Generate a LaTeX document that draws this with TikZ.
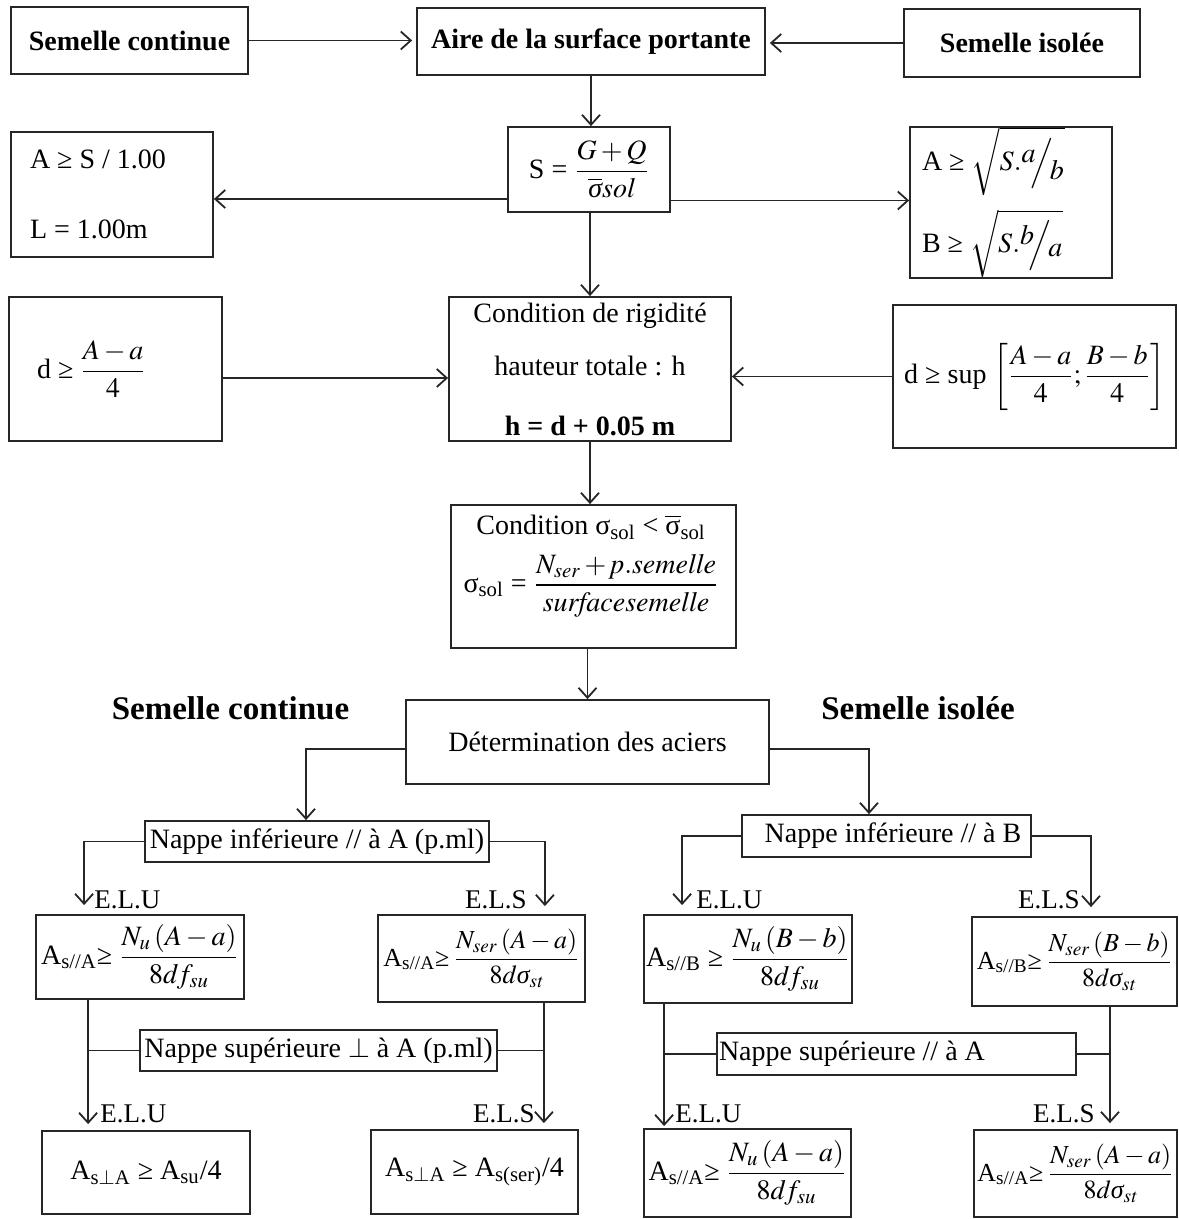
\documentclass[tikz,border=0pt]{standalone}
\usepackage{amsmath}
\usepackage{mathptmx}
\usepackage{fontspec}
\setmainfont{Liberation Serif}
\usetikzlibrary{arrows.meta}
\newcommand{\sigi}{\mbox{\itshape σ}}

\tikzset{
  cadre/.style={draw=black!85, line width=0.9pt, inner sep=0pt},
  fleche/.style={draw=black!85, line width=0.9pt, -{Straight Barb[length=5pt,width=9pt]}},
  trait/.style={draw=black!85, line width=0.9pt},
  gras/.style={font=\fontsize{14}{16}\selectfont\bfseries},
  formule/.style={font=\fontsize{13}{15}\selectfont},
  etat/.style={font=\fontsize{13.5}{15}\selectfont, inner sep=0pt},
  titre/.style={font=\fontsize{16.5}{19}\selectfont\bfseries, inner sep=0pt}
}

\begin{document}
\begin{tikzpicture}[x=0.5pt, y=-0.5pt, font=\fontsize{14}{16}\selectfont]
  \useasboundingbox (0,0) rectangle (1178,1219);
  \node[cadre, gras, minimum width=118.5pt, minimum height=33.5pt] (scont) at (129.5,40.5) {Semelle continue};
  \node[cadre, gras, minimum width=174pt, minimum height=33.5pt] (aire) at (591,41.5) {Aire de la surface portante};
  \node[cadre, gras, minimum width=118pt, minimum height=34pt] (siso) at (1022,43) {Semelle isolée};

  \node[cadre, minimum width=81pt, minimum height=42.5pt] (surface) at (589,169.5) {S = $\dfrac{G+Q}{\overline{\sigi}\mathit{sol}}$};
  \node[cadre, minimum width=101pt, minimum height=62.5pt, text width=82pt, inner xsep=9.5pt, align=flush left] (contA) at (112,194.5) {A ≥ S / 1.00\\[19pt] L = 1.00m};
  \node[cadre, minimum width=101pt, minimum height=74.5pt, text width=89pt, inner xsep=6pt, align=flush left] (isoAB) at (1011,202.5) {A ≥ $\sqrt{S.{}^{\textstyle a}\!\!\Big/\!_{\textstyle b}}$\\[6pt] B ≥ $\sqrt{S.{}^{\textstyle b}\!\!\Big/\!_{\textstyle a}}$};

  \node[cadre, minimum width=106.5pt, minimum height=72pt, text width=78.5pt, inner xsep=14pt, align=flush left] (dcont) at (115.5,369) {d ≥ $\dfrac{A-a}{4}$};
  \node[cadre, minimum width=141pt, minimum height=72pt, align=center] (rigid) at (590,369) {Condition de rigidité\\[10.5pt] hauteur totale : h\\[14pt] \textbf{h = d + 0.05 m}};
  \node[cadre, minimum width=141.5pt, minimum height=71.5pt] (diso) at (1034.5,376.5) {d ≥ sup $\left[\dfrac{A-a}{4};\dfrac{B-b}{4}\right]$};

  \node[cadre, minimum width=142.5pt, minimum height=71.5pt] (sigma) at (593.5,576.5) {};
  \node[align=center] (sigtxt) at (591,566) {Condition σ\textsubscript{sol} < $\overline{\mbox{σ}}$\textsubscript{sol}\\[6pt] σ\textsubscript{sol} = $\dfrac{N_{\mathit{ser}}+\mathit{p.semelle}}{\mathit{surfacesemelle}}$};

  \node[cadre, minimum width=181.5pt, minimum height=42pt] (acier) at (587.5,742) {Détermination des aciers};
  \node[titre] (tcont) at (230.5,708) {Semelle continue};
  \node[titre] (tiso) at (918,708) {Semelle isolée};

  \node[cadre, minimum width=172pt, minimum height=20.5pt] (infA) at (317,841.5) {Nappe inférieure // à A (p.ml)};
  \node[cadre, minimum width=144.5pt, minimum height=21pt] (infB) at (886.5,836) {\hspace*{6.5pt}Nappe inférieure // à B};

  \node[cadre, minimum width=104pt, minimum height=42pt] (eluA) at (140,957) {A\textsubscript{s//A}≥ $\dfrac{N_u\left(A-a\right)}{8d\mkern-1mu f_{\mathit{su}}}$};
  \node[cadre, formule, minimum width=103.5pt, minimum height=43.5pt] (elsA) at (481.5,958.5) {A\textsubscript{s//A}≥\,$\dfrac{N_{\mathit{ser}}\left(A-a\right)}{8d\sigi_{\mathit{st}}}$};
  \node[cadre, minimum width=104pt, minimum height=44pt] (eluB) at (748,959) {A\textsubscript{s//B} ≥ $\dfrac{N_u\left(B-b\right)}{8d\mkern-1mu f_{\mathit{su}}}$};
  \node[cadre, formule, minimum width=102.5pt, minimum height=44.5pt] (elsB) at (1074.5,961.5) {A\textsubscript{s//B}≥\,$\dfrac{N_{\mathit{ser}}\left(B-b\right)}{8d\sigi_{\mathit{st}}}$};

  \node[cadre, minimum width=178.5pt, minimum height=20.5pt] (supA) at (318.5,1050.5) {Nappe supérieure $\perp$ à A (p.ml)};
  \node[cadre, minimum width=179.5pt, minimum height=21pt, text width=177.5pt, inner xsep=1pt, align=flush left] (supB) at (896.5,1054) {Nappe supérieure // à A};

  \node[cadre, minimum width=104pt, minimum height=41.5pt] (eluA2) at (146,1172.5) {A\textsubscript{s$\perp$A} ≥ A\textsubscript{su}/4};
  \node[cadre, minimum width=103.5pt, minimum height=42pt] (elsA2) at (474.5,1172) {A\textsubscript{s$\perp$A} ≥ A\textsubscript{s(ser)}/4};
  \node[cadre, minimum width=103.5pt, minimum height=44pt] (eluB2) at (747.5,1173) {A\textsubscript{s//A}≥ $\dfrac{N_u\left(A-a\right)}{8d\mkern-1mu f_{\mathit{su}}}$};
  \node[cadre, formule, minimum width=101.5pt, minimum height=43.5pt] (elsB2) at (1075.5,1173.5) {A\textsubscript{s//A}≥\,$\dfrac{N_{\mathit{ser}}\left(A-a\right)}{8d\sigi_{\mathit{st}}}$};

  \node[etat, anchor=west] (lelu1) at (94,900) {E.L.U};
  \node[etat, anchor=east] (lels1) at (527,900) {E.L.S};
  \node[etat, anchor=west] (lelu2) at (696,900) {E.L.U};
  \node[etat, anchor=east] (lels2) at (1080,900) {E.L.S};
  \node[etat, anchor=west] (lelu3) at (100,1114) {E.L.U};
  \node[etat, anchor=east] (lels3) at (535,1114) {E.L.S};
  \node[etat, anchor=west] (lelu4) at (675,1114) {E.L.U};
  \node[etat, anchor=east] (lels4) at (1095,1114) {E.L.S};

  \coordinate (vA) at ([xshift=26.5pt]eluA.south west);
  \coordinate (wA) at ([xshift=-21pt]elsA.south east);
  \coordinate (vB) at ([xshift=10.5pt]eluB.south west);
  \coordinate (wB) at ([xshift=17.75pt]elsB.south);

  \draw[fleche, shorten >=2pt] (scont.east) -- (scont.east -| aire.west);
  \draw[fleche, shorten >=2pt] (siso.west) -- (siso.west -| aire.east);
  \draw[fleche] (aire.south) -- (aire.south |- surface.north);
  \draw[fleche] ([yshift=-14.75pt]surface.west) -- ([yshift=-14.75pt]surface.west -| contA.east);
  \draw[fleche] ([yshift=-15.5pt]surface.east) -- ([yshift=-15.5pt]surface.east -| isoAB.west);
  \draw[fleche] (surface.south -| rigid.north) -- (rigid.north);
  \draw[fleche] ([yshift=-4.5pt]dcont.east) -- ([yshift=-4.5pt]dcont.east -| rigid.west);
  \draw[fleche] (diso.west) -- (diso.west -| rigid.east);
  \draw[fleche] (rigid.south) -- (rigid.south |- sigma.north);
  \draw[fleche] (acier.north |- sigma.south) -- (acier.north);
  \draw[fleche] ([yshift=-3.5pt]acier.west) -| ([xshift=-5.5pt]infA.north);
  \draw[fleche] ([yshift=-3.5pt]acier.east) -| ([xshift=-8.75pt]infB.north);

  \draw[fleche, shorten >=4.5pt] (infA.west) -| ([xshift=24.5pt]eluA.north west);
  \draw[fleche, shorten >=4pt] (infA.east) -| ([xshift=-20.5pt]elsA.north east);
  \draw[fleche, shorten >=4.5pt] (infB.west) -| ([xshift=19.5pt]eluB.north west);
  \draw[fleche, shorten >=4.5pt] (infB.east) -| ([xshift=8.25pt]elsB.north);

  \draw[fleche, shorten >=3pt] (vA) -- (vA |- eluA2.north);
  \draw[trait] (supA.west) -- (supA.west -| vA);
  \draw[fleche, shorten >=3pt] (wA) -- (wA |- elsA2.north);
  \draw[trait] (supA.east) -- (supA.east -| wA);
  \draw[fleche, shorten >=1pt] (vB) -- (vB |- eluB2.north);
  \draw[trait] (supB.west) -- (supB.west -| vB);
  \draw[fleche, shorten >=3pt] (wB) -- (wB |- elsB2.north);
  \draw[trait] (supB.east) -- (supB.east -| wB);
\end{tikzpicture}
\end{document}
